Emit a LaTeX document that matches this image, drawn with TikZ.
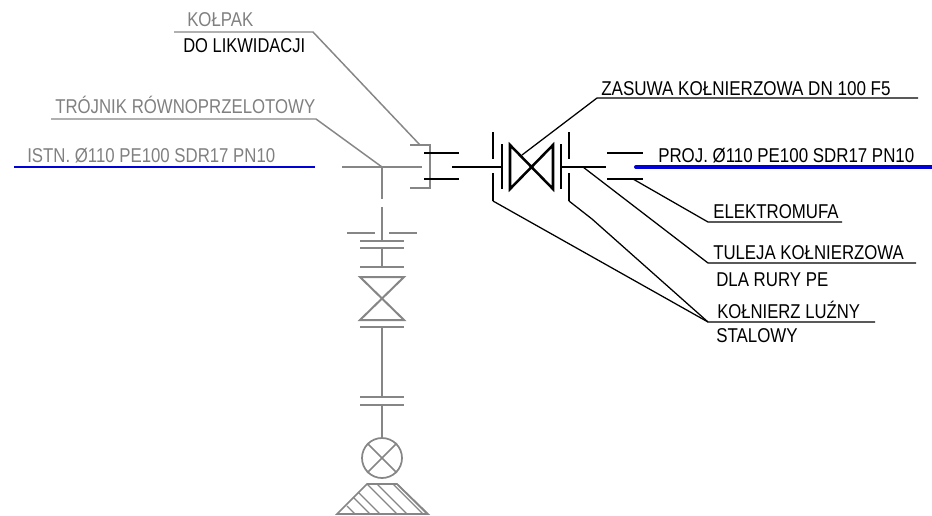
\documentclass[tikz,border=0pt]{standalone}
\usepackage{graphicx}
\usepackage{fontspec}
\setmainfont{Liberation Sans}
\newsavebox{\labbox}
\newcommand{\lab}[2]{\sbox{\labbox}{#2}\pgfmathsetmacro{\labsx}{#1/\the\wd\labbox}\scalebox{\labsx}[1]{\usebox{\labbox}}}
\tikzset{
  gy/.style={draw=gray!95,line width=1.3pt},
  gth/.style={draw=gray!95,line width=1.5pt},
  bk/.style={draw=black,line width=1.9pt},
  ld/.style={draw=black,line width=0.95pt},
  gld/.style={draw=gray!95,line width=1.1pt},
  txt/.style={anchor=base west,inner sep=0pt,font=\fontsize{15}{16}\selectfont},
}
\begin{document}
\begin{tikzpicture}[x=0.75pt,y=-0.75pt]
\useasboundingbox (0,0) rectangle (932,515);
% labels
\node[txt,text=gray] (kolpak) at (187,26) {\lab{49.5}{KOŁPAK}};
\node[txt] (dolik) at (183,52) {\lab{91.5}{DO LIKWIDACJI}};
\node[txt,text=gray] (trojnik) at (55,113) {\lab{195}{TRÓJNIK RÓWNOPRZELOTOWY}};
\node[txt,text=gray] (istn) at (27,162) {\lab{186}{ISTN. Ø110 PE100 SDR17 PN10}};
\node[txt] (zasuwa) at (601,95) {\lab{217}{ZASUWA KOŁNIERZOWA DN 100 F5}};
\node[txt] (proj) at (658,162) {\lab{192}{PROJ. Ø110 PE100 SDR17 PN10}};
\node[txt] (elektro) at (713,218) {\lab{94}{ELEKTROMUFA}};
\node[txt] (tuleja) at (713,259) {\lab{143}{TULEJA KOŁNIERZOWA}};
\node[txt] (dla) at (716,286) {\lab{84}{DLA RURY PE}};
\node[txt] (kolnierz) at (717,318) {\lab{107}{KOŁNIERZ LUŹNY}};
\node[txt] (stalowy) at (716,342) {\lab{61}{STALOWY}};
% named points
\coordinate (capA) at (420,145);
\coordinate (teeC) at (382,167);
\coordinate (kn) at (708,322);
\coordinate (fl1) at (493,201);
\coordinate (fl4) at (569,201);
% blue pipes
\draw[draw=blue!85!black,line width=1.3pt] (14,167) -- (315,167);
\draw[draw=blue!85!black,line width=3pt,line cap=round] (636,167) -- (932,167);
% gray leaders
\draw[gld] (174,32) -- (313,32) -- (capA);
\draw[gld] (51,119) -- (316,119) -- (teeC);
% gray branch
\draw[gy] (342,167) -- (422,167);
\draw[gy] (teeC) -- (382,199);
\draw[gy] (382,207) -- (382,241);
\draw[gy] (410,145) -- (430,145) -- (430,188) -- (410,188);
\draw[gy] (347,233) -- (375,233);
\draw[gy] (389,233) -- (417,233);
\draw[gy] (360,241) -- (404,241);
\draw[gy] (360,248) -- (404,248);
\draw[gy] (382,248) -- (382,267);
\draw[gy] (360,267) -- (404,267);
\draw[gth] (360,277) -- (404,277) -- (360,320) -- (404,320) -- cycle;
\draw[gy] (360,327) -- (404,327);
\draw[gy] (382,327) -- (382,397);
\draw[gy] (360,397) -- (404,397);
\draw[gy] (360,405) -- (404,405);
\draw[gy] (382,405) -- (382,438);
\node[circle,draw=gray!95,line width=1.3pt,minimum size=30pt,inner sep=0pt] (ball) at (382,458) {};
\draw[gy] (ball.45) -- (ball.225);
\draw[gy] (ball.135) -- (ball.315);
% base
\draw[gy] (337,514) -- (367,484) -- (397,484) -- (428,514) -- cycle;
\foreach \a/\b in {347/355,353/370,358/380,367/397,377/407,393/423,397/427}{
  \pgfmathsetmacro{\ys}{514-(\b-\a)}
  \draw[draw=gray!95,line width=1pt] (\a,\ys) -- (\b,514);
}
% black pipes
\draw[bk] (424,153) -- (459,153);
\draw[bk] (424,179) -- (459,179);
\draw[bk] (452,167) -- (503,167);
\draw[bk] (561,167) -- (606,167);
\draw[bk] (607,153) -- (643,153);
\draw[bk] (607,179) -- (643,179);
% flanges
\draw[bk] (493,132) -- (493,159);
\draw[bk] (493,173) -- (fl1);
\draw[bk] (502,144) -- (502,189);
\draw[bk] (561,144) -- (561,189);
\draw[bk] (569,132) -- (569,159);
\draw[bk] (569,173) -- (fl4);
% gate valve
\draw[bk] (510,145) -- (510,189) -- (553,145) -- (553,189) -- cycle;
% black leaders
\draw[ld] (522,155) -- (597,98) -- (918,98);
\draw[ld] (fl1) -- (kn) -- (875,322);
\draw[ld] (fl4) -- (592,219) -- (kn);
\draw[ld] (583,167) -- (708,263) -- (916,263);
\draw[ld] (633,179) -- (708,222) -- (842,222);
\end{tikzpicture}
\end{document}
